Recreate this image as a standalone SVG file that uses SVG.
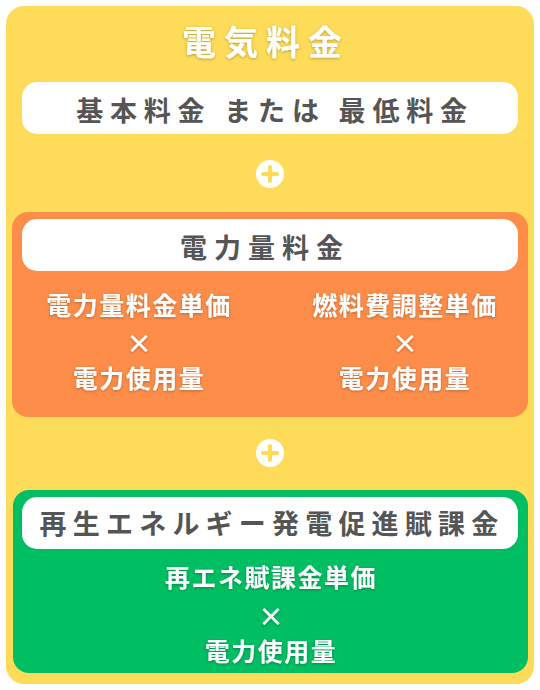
<svg xmlns="http://www.w3.org/2000/svg" width="540" height="690" viewBox="0 0 540 690">
<defs>
<filter id="sh" x="-10%" y="-30%" width="120%" height="160%">
<feDropShadow dx="0" dy="1" stdDeviation="1.5" flood-color="#000" flood-opacity="0.28"/>
</filter>
<g id="plusY"><circle r="14" fill="#fff"/><path d="M-7 0H7M0 -7V7" stroke="#FEDB58" stroke-width="4" stroke-linecap="round"/></g>
<g id="plusO"><circle r="14" fill="#fff"/><path d="M-7 0H7M0 -7V7" stroke="#FF8D4A" stroke-width="4" stroke-linecap="round"/></g>
</defs>
<style>
text{font-family:"Noto Sans CJK JP","Noto Sans",sans-serif;font-weight:700;text-anchor:middle;dominant-baseline:central}
.w{fill:#fff;filter:url(#sh)}
.hd{fill:#555;font-size:27px}
.row{font-size:25px;letter-spacing:1.5px}
.box{fill:#fff}
</style>
<g id="outer">
<rect x="6" y="6" width="528" height="678" rx="18" fill="#FEDB58"/>
<text class="w" x="266" y="40" font-size="34" letter-spacing="8">電気料金</text>
</g>
<g id="base">
<rect class="box" x="22" y="82" width="496" height="52" rx="15"/>
<text class="hd" x="275" y="109" letter-spacing="6.8">基本料金 または 最低料金</text>
</g>
<g id="connectors">
<use href="#plusY" x="270" y="174"/>
<use href="#plusO" x="270" y="341"/>
<use href="#plusY" x="270" y="453"/>
</g>
<g id="energy">
<rect x="12" y="212" width="516" height="205" rx="16" fill="#FF8D4A"/>
<rect class="box" x="22" y="219" width="496" height="52" rx="15"/>
<text class="hd" x="265" y="246" letter-spacing="7">電力量料金</text>
</g>
<g id="energyUnit">
<text class="w row" x="139" y="304">電力量料金単価</text>
<text class="w" x="139" y="341" font-size="26">×</text>
<text class="w row" x="139" y="377">電力使用量</text>
</g>
<g id="fuel">
<text class="w row" x="405" y="304">燃料費調整単価</text>
<text class="w" x="405" y="341" font-size="26">×</text>
<text class="w row" x="405" y="377">電力使用量</text>
</g>
<g id="renew">
<rect x="13" y="490" width="515" height="183" rx="16" fill="#00BE62"/>
<rect class="box" x="22" y="497" width="496" height="52" rx="15"/>
<text class="hd" x="272" y="522" font-size="26" letter-spacing="6.2">再生エネルギー発電促進賦課金</text>
<text class="w row" x="271" y="576">再エネ賦課金単価</text>
<text class="w" x="271" y="614" font-size="26">×</text>
<text class="w row" x="271" y="650">電力使用量</text>
</g>
</svg>
